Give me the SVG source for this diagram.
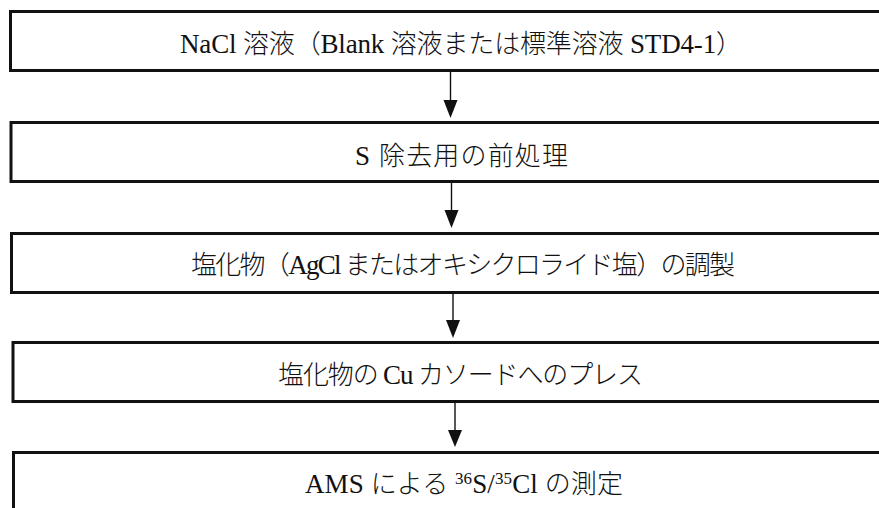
<svg xmlns="http://www.w3.org/2000/svg" width="879" height="508" viewBox="0 0 879 508">
<defs>
<style>
.box{fill:#fff;stroke:#111;stroke-width:3}
.t{font-family:"Liberation Serif","Noto Sans CJK JP",serif;font-size:26px;font-weight:300;fill:#111;text-anchor:middle}
.l{font-size:27px;font-weight:400}
.sup{font-size:17px;font-weight:400}
.ln{stroke:#111;stroke-width:1.4;fill:none}
.hd{fill:#111}
</style>
</defs>
<rect x="0" y="0" width="879" height="508" fill="#fff"/>
<g id="node1">
<rect class="box" x="10.5" y="11.5" width="902" height="59"/>
<text class="t" x="461" y="53" textLength="562" lengthAdjust="spacing"><tspan class="l">NaCl </tspan>溶液（<tspan class="l">Blank </tspan>溶液または標準溶液<tspan class="l"> STD4-1</tspan>）</text>
</g>
<g id="node2">
<rect class="box" x="11" y="122.5" width="902" height="59"/>
<text class="t" x="461.5" y="165" textLength="213" lengthAdjust="spacing"><tspan class="l">S </tspan>除去用の前処理</text>
</g>
<g id="node3">
<rect class="box" x="11.5" y="233.5" width="902" height="59"/>
<text class="t" x="463" y="274" textLength="544" lengthAdjust="spacing">塩化物（<tspan class="l">AgCl </tspan>またはオキシクロライド塩）の調製</text>
</g>
<g id="node4">
<rect class="box" x="13" y="342.5" width="902" height="59"/>
<text class="t" x="460.5" y="384" textLength="365" lengthAdjust="spacing">塩化物の<tspan class="l"> Cu </tspan>カソードへのプレス</text>
</g>
<g id="node5">
<rect class="box" x="13.5" y="452.5" width="902" height="59"/>
<text class="t" x="464" y="493" textLength="318" lengthAdjust="spacing"><tspan class="l">AMS </tspan>による <tspan class="sup" dy="-9">36</tspan><tspan class="l" dy="9">S/</tspan><tspan class="sup" dy="-9">35</tspan><tspan class="l" dy="9">Cl </tspan>の測定</text>
</g>
<g id="connectors">
<line class="ln" x1="450.5" y1="72" x2="450.5" y2="102"/>
<polygon class="hd" points="443.5,100 457.5,100 450.5,118"/>
<line class="ln" x1="451.5" y1="183" x2="451.5" y2="212"/>
<polygon class="hd" points="444.5,210 458.5,210 451.5,228"/>
<line class="ln" x1="453" y1="294" x2="453" y2="322"/>
<polygon class="hd" points="446,320 460,320 453,338"/>
<line class="ln" x1="455" y1="403" x2="455" y2="432"/>
<polygon class="hd" points="448,430 462,430 455,447"/>
</g>
</svg>
